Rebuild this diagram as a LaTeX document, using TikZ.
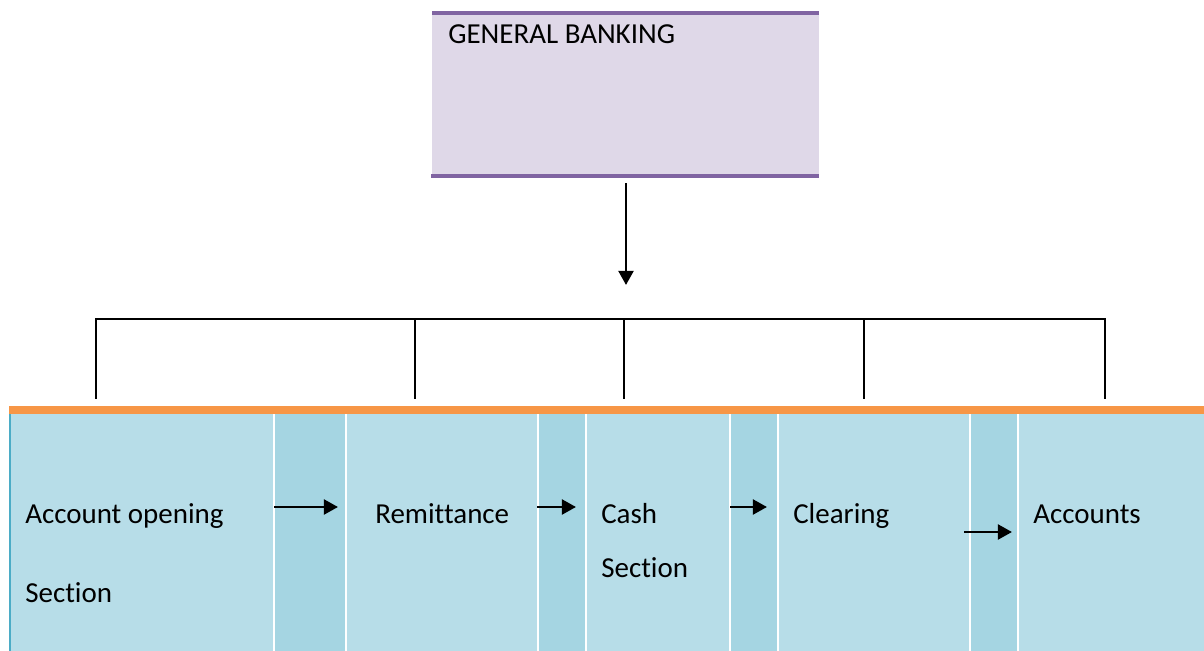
\documentclass[tikz,border=0pt]{standalone}
\usepackage{fontspec}
\setmainfont{Carlito}[Ligatures=NoCommon]
\usetikzlibrary{arrows.meta}

\definecolor{gbfill}{HTML}{DFD8E8}
\definecolor{gbline}{HTML}{8064A2}
\definecolor{barorange}{HTML}{F79646}
\definecolor{panelblue}{HTML}{B7DDE8}
\definecolor{gapblue}{HTML}{A5D5E2}
\definecolor{edgeblue}{HTML}{4BACC6}

\begin{document}
\begin{tikzpicture}[x=0.025cm, y=-0.025cm,
		every node/.style={font=\fontsize{20.6}{24}\selectfont, inner sep=0pt, anchor=base west},
		flow/.style={-{Triangle[length=10pt, width=10.5pt]}, line width=2pt}]
		\useasboundingbox (0,0) rectangle (1204,651);
		
		%Kopf
		\fill[gbfill] (432,13) rectangle (819,177);
		\draw[gbline, line width=2.6pt] (432,13) -- (819,13);
		\draw[gbline, line width=2.6pt] (431,176) -- (819,176);
		\node (gb) at (448,43) {GENERAL BANKING};
		
		\coordinate (gbout) at (626,183);
		\coordinate (split) at (626,285);
		\draw[flow] (gbout) -- (split);
		
		%Klammer
		\foreach \x [count=\k] in {96,415,624,864,1105} {
			\coordinate (t\k) at (\x,319);
			\coordinate (b\k) at (\x,399);
			\draw[line width=1.2pt] (t\k) -- (b\k);
		}
		\draw[line width=1.2pt] ([xshift=-0.6pt]t1) -- ([xshift=0.6pt]t5);
		
		%Spalten
		\fill[barorange] (9,406) rectangle (1204,414);
		\fill[panelblue] (9,414) rectangle (1204,651);
		\draw[edgeblue, line width=1.4pt] (10,414) -- (10,651);
		\foreach \a/\b in {274/346, 538/586, 730/778, 970/1018} {
			\fill[gapblue] (\a,414) rectangle (\b,651);
			\draw[white, line width=1.4pt] (\a,414) -- (\a,651);
			\draw[white, line width=1.4pt] (\b,414) -- (\b,651);
		}
		
		\node (acc) at (25,523) {Account opening};
		\node (accsec) at (25,602) {Section};
		\node (rem) at (375,523) {Remittance};
		\node (cash) at (601,523) {Cash};
		\node (cashsec) at (601,577) {Section};
		\node (clr) at (793,523) {Clearing};
		\node (accts) at (1033,523) {Accounts};
		
		%Pfeile
		\foreach \a/\b/\y [count=\k] in {274/338/507, 537/576/507, 730/767/507, 964/1012/532} {
			\coordinate (s\k) at (\a,\y);
			\coordinate (e\k) at (\b,\y);
			\draw[flow] (s\k) -- (e\k);
		}
	\end{tikzpicture}
\end{document}
